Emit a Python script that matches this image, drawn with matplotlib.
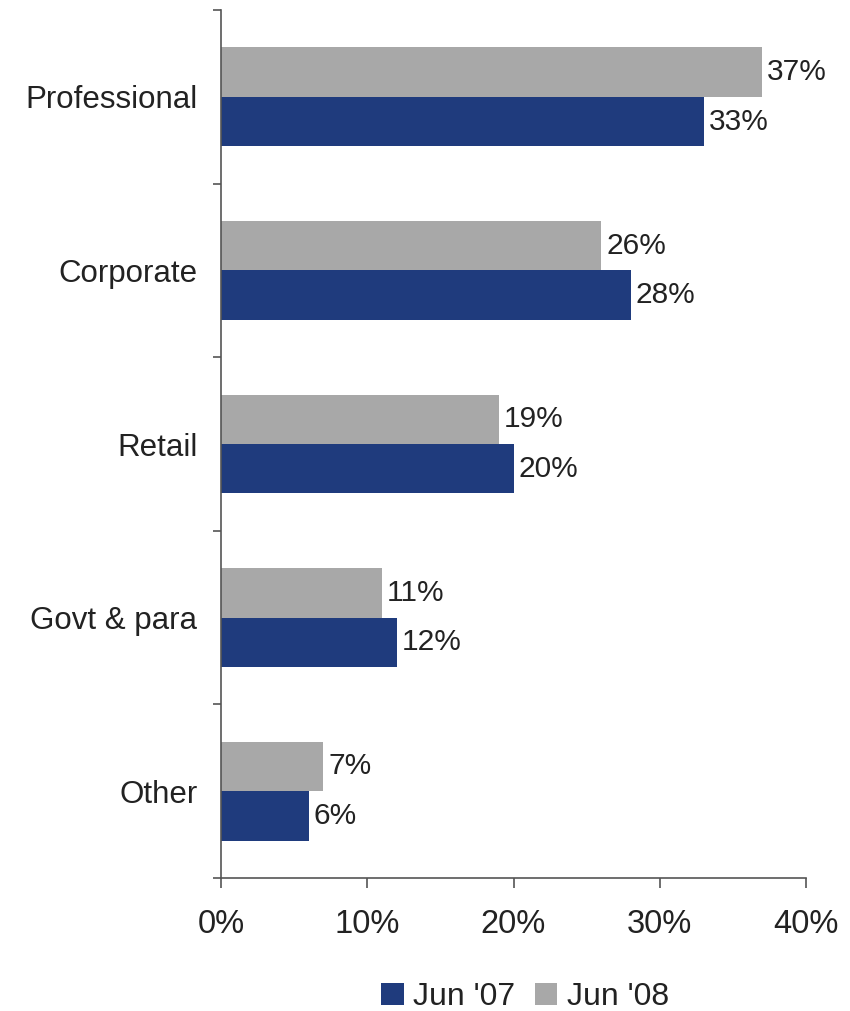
import matplotlib
matplotlib.use("Agg")
import matplotlib.pyplot as plt
import numpy as np

categories = ["Professional", "Corporate", "Retail", "Govt & para", "Other"]
jun07 = [33, 28, 20, 12, 6]
jun08 = [37, 26, 19, 11, 7]
series_names = ["Jun '07", "Jun '08"]
xticks = [0, 10, 20, 30, 40]

plt.rcParams['font.family'] = ['Liberation Sans', 'DejaVu Sans']

fig = plt.figure(figsize=(8.5, 10.11), dpi=100)
ax = fig.add_axes([221/850, 1-878/1011, (806-221)/850, (878-10)/1011])

blue = "#1f3b7d"
gray = "#a8a8a8"
txt = "#222222"
n = len(categories)
y = np.arange(n)
h = 0.285
b1 = ax.barh(y + h/2, jun07, height=h, color=blue, label=series_names[0])
b2 = ax.barh(y - h/2, jun08, height=h, color=gray, label=series_names[1])

for rect, v in zip(b1, jun07):
    ax.text(rect.get_width() + 0.35, rect.get_y() + rect.get_height()/2, f"{v}%",
            va="center", ha="left", fontsize=21.5, color=txt)
for rect, v in zip(b2, jun08):
    ax.text(rect.get_width() + 0.35, rect.get_y() + rect.get_height()/2, f"{v}%",
            va="center", ha="left", fontsize=21.5, color=txt)

ax.set_ylim(n - 0.5, -0.5)
ax.set_xlim(0, 40)
ax.set_xticks(xticks)
ax.set_xticklabels([f"{t}%" for t in xticks], fontsize=23.5, color=txt)
ax.set_yticks(y)
ax.set_yticklabels(categories, fontsize=22.5, color=txt)
ax.set_yticks(np.arange(-0.5, n, 1.0), minor=True)
ax.tick_params(axis='y', which='major', length=0, pad=17)
ax.tick_params(axis='y', which='minor', length=6, color="#555555", width=1.2, direction='out')
ax.tick_params(axis='x', which='major', length=7, color="#555555", width=1.2, pad=15)

for s in ["top", "right"]:
    ax.spines[s].set_visible(False)
for s in ["left", "bottom"]:
    ax.spines[s].set_color("#555555")
    ax.spines[s].set_linewidth(1.2)

handles = [b1, b2]
leg = fig.legend(handles, series_names, loc="center", bbox_to_anchor=(525/850, 1-997/1011),
                 ncol=2, frameon=False, fontsize=23, handlelength=0.7, handleheight=0.7,
                 handletextpad=0.3, columnspacing=0.6)
for t in leg.get_texts():
    t.set_color(txt)

fig.savefig("out.png", dpi=100)
